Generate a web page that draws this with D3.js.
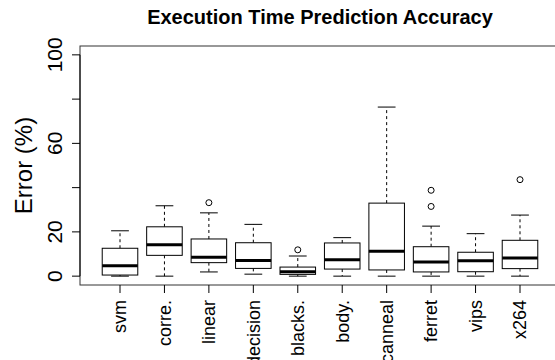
<!DOCTYPE html>
<html>
<head>
<meta charset="utf-8">
<script src="https://cdn.jsdelivr.net/npm/d3@7"></script>
<style>
  body { margin: 0; background: #fff; }
  svg { display: block; font-family: "Liberation Sans", Arial, sans-serif; }
</style>
</head>
<body>
<svg id="chart"></svg>
<script>
// Data
const categories = ["svm", "corre.", "linear", "decision", "blacks.", "body.", "canneal", "ferret", "vips", "x264"];
const lowWhisker = [0, 0, 1.9, 0.9, 0, 0, 0, 0, 0, 0];
const q1 = [0.5, 9.4, 6.1, 3.5, 0.8, 3.2, 2.8, 1.9, 2.0, 3.4];
const medians = [4.7, 14.2, 8.5, 7.1, 2.0, 7.4, 11.2, 6.4, 7.0, 8.2];
const q3 = [12.6, 22.3, 16.8, 15.1, 4.1, 15.0, 33.0, 13.3, 10.8, 16.2];
const highWhisker = [20.5, 31.8, 28.6, 23.4, 9.1, 17.4, 76.4, 22.6, 19.2, 27.6];
const outliers = [[], [], [33.2], [], [11.9], [], [], [38.8, 31.5], [], [43.6]];
const yTicks = [0, 20, 40, 60, 80, 100];
const yTickLabels = ["0", "20", "", "60", "", "100"];

const width = 555;
const height = 360;
const plot = { left: 80, right: 560, top: 46, bottom: 285 };

const svg = d3.select('#chart')
  .attr('width', width)
  .attr('height', height);

const x = d3.scaleLinear()
  .domain([0.1, categories.length + 0.9])
  .range([plot.left, plot.right]);

const y = d3.scaleLinear()
  .domain([-4, 104])
  .range([plot.bottom, plot.top]);

const boxes = categories.map((c, i) => ({
  name: c, pos: i + 1,
  lo: lowWhisker[i], q1: q1[i], med: medians[i], q3: q3[i], hi: highWhisker[i],
  out: outliers[i]
}));

const g = svg.append('g');

// whiskers (dashed)
g.selectAll('.whisk')
  .data(boxes.flatMap(d => [[d.pos, d.q3, d.hi], [d.pos, d.q1, d.lo]]))
  .enter().append('line')
  .attr('x1', d => x(d[0])).attr('x2', d => x(d[0]))
  .attr('y1', d => y(d[1])).attr('y2', d => y(d[2]))
  .attr('stroke', '#000').attr('stroke-width', 1)
  .attr('stroke-dasharray', '3,3');

// whisker caps
g.selectAll('.cap')
  .data(boxes.flatMap(d => [[d.pos, d.hi], [d.pos, d.lo]]))
  .enter().append('line')
  .attr('x1', d => x(d[0] - 0.2)).attr('x2', d => x(d[0] + 0.2))
  .attr('y1', d => y(d[1])).attr('y2', d => y(d[1]))
  .attr('stroke', '#000').attr('stroke-width', 1);

// boxes
g.selectAll('.box')
  .data(boxes)
  .enter().append('rect')
  .attr('x', d => x(d.pos - 0.4))
  .attr('width', d => x(d.pos + 0.4) - x(d.pos - 0.4))
  .attr('y', d => y(d.q3))
  .attr('height', d => y(d.q1) - y(d.q3))
  .attr('fill', '#fff')
  .attr('stroke', '#000').attr('stroke-width', 1);

// medians
g.selectAll('.med')
  .data(boxes)
  .enter().append('line')
  .attr('x1', d => x(d.pos - 0.4)).attr('x2', d => x(d.pos + 0.4))
  .attr('y1', d => y(d.med)).attr('y2', d => y(d.med))
  .attr('stroke', '#000').attr('stroke-width', 3);

// outliers
g.selectAll('.out')
  .data(boxes.flatMap(d => d.out.map(v => [d.pos, v])))
  .enter().append('circle')
  .attr('cx', d => x(d[0])).attr('cy', d => y(d[1]))
  .attr('r', 3)
  .attr('fill', 'none').attr('stroke', '#000').attr('stroke-width', 1);

// plot frame
svg.append('rect')
  .attr('x', plot.left).attr('y', plot.top)
  .attr('width', plot.right - plot.left).attr('height', plot.bottom - plot.top)
  .attr('fill', 'none').attr('stroke', '#333').attr('stroke-width', 1);

// y axis
const yAxis = svg.append('g');
yAxis.append('line')
  .attr('x1', plot.left).attr('x2', plot.left)
  .attr('y1', y(0)).attr('y2', y(100))
  .attr('stroke', '#000');
yAxis.selectAll('.yt')
  .data(yTicks)
  .enter().append('line')
  .attr('x1', plot.left - 8).attr('x2', plot.left)
  .attr('y1', d => y(d)).attr('y2', d => y(d))
  .attr('stroke', '#000');
yAxis.selectAll('.yl')
  .data(yTicks)
  .enter().append('text')
  .attr('transform', d => `translate(62,${y(d)}) rotate(-90)`)
  .attr('text-anchor', 'middle')
  .attr('font-size', '21px')
  .text((d, i) => yTickLabels[i]);

// x axis
svg.selectAll('.xt')
  .data(boxes)
  .enter().append('line')
  .attr('x1', d => x(d.pos)).attr('x2', d => x(d.pos))
  .attr('y1', plot.bottom).attr('y2', plot.bottom + 8)
  .attr('stroke', '#000');
svg.selectAll('.xl')
  .data(boxes)
  .enter().append('text')
  .attr('transform', d => `translate(${x(d.pos)},300) rotate(-90)`)
  .attr('text-anchor', 'end')
  .attr('dy', '0.35em')
  .attr('font-size', '18px')
  .text(d => d.name);

// y title
svg.append('text')
  .attr('transform', `translate(32,${(plot.top + plot.bottom) / 2}) rotate(-90)`)
  .attr('text-anchor', 'middle')
  .attr('font-size', '24px')
  .text('Error (%)');

// main title
svg.append('text')
  .attr('x', (plot.left + plot.right) / 2)
  .attr('y', 24)
  .attr('text-anchor', 'middle')
  .attr('font-size', '20px')
  .attr('font-weight', 'bold')
  .text('Execution Time Prediction Accuracy');
</script>
</body>
</html>
